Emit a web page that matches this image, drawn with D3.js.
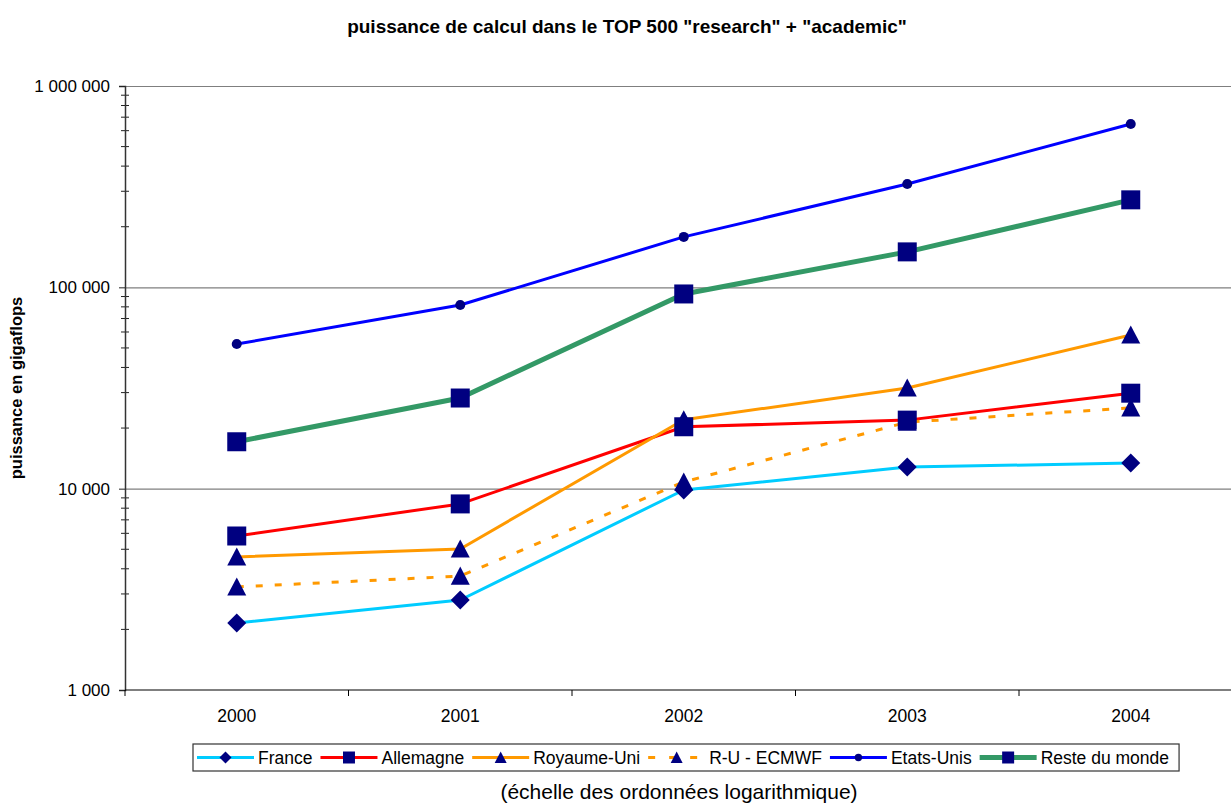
<!DOCTYPE html>
<html>
<head>
<meta charset="utf-8">
<script src="https://cdn.jsdelivr.net/npm/d3@7"></script>
<style>
  body { margin: 0; background: #fff; }
  text { font-family: Arial, "Liberation Sans", sans-serif; }
</style>
</head>
<body>
<div id="viz-container"></div>
<script>
// values (gigaflops)
let years = ["2000", "2001", "2002", "2003", "2004"];
let france = [2150, 2800, 9850, 12800, 13400];
let allemagne = [5820, 8400, 20300, 21900, 29800];
let royaumeUni = [4580, 5020, 22000, 31600, 58000];
let ruEcmwf = [3250, 3680, 10800, 21400, 25200];
let etatsUnis = [52300, 81700, 178000, 326000, 648000];
let resteMonde = [17100, 28200, 92700, 150000, 272000];
let yTicks = [1000, 10000, 100000, 1000000];

let series = [
  {name: "France", values: france, color: "#00ccff", width: 3, dash: null, marker: "diamond"},
  {name: "Allemagne", values: allemagne, color: "#ff0000", width: 3, dash: null, marker: "square"},
  {name: "Royaume-Uni", values: royaumeUni, color: "#ff9900", width: 3, dash: null, marker: "triangle"},
  {name: "R-U - ECMWF", values: ruEcmwf, color: "#ff9900", width: 3, dash: "7,12", marker: "triangle"},
  {name: "Etats-Unis", values: etatsUnis, color: "#0000ff", width: 3, dash: null, marker: "circle"},
  {name: "Reste du monde", values: resteMonde, color: "#339966", width: 5, dash: null, marker: "square"}
];

let W = 1231, H = 805;
let plotLeft = 125, plotTop = 86, plotBottom = 690;
let band = 223.5;

let viz = d3.select("#viz-container")
  .append("svg")
    .attr("width", W)
    .attr("height", H);

let x = d3.scaleBand().domain(years).range([plotLeft, plotLeft + band * years.length]);
let y = d3.scaleLog().domain([1000, 1000000]).range([plotBottom, plotTop]);

let fr = d3.formatLocale({decimal: ",", thousands: " ", grouping: [3], currency: ["", " €"]});
let fmt = fr.format(",");

// gridlines
viz.append("g")
  .attr("transform", "translate(" + plotLeft + ",0)")
  .call(d3.axisLeft(y).tickValues(yTicks.slice(1)).tickSize(-(W - plotLeft + 20)).tickFormat(""))
  .call(g => g.select(".domain").remove())
  .selectAll("line").attr("stroke", "#7f7f7f").attr("stroke-width", 1.2);

// minor ticks (cross the axis)
let minor = [];
for (let d = 1000; d < 1000000; d *= 10) {
  for (let k = 2; k <= 9; k++) minor.push(d * k);
}
viz.selectAll(".minor").data(minor).enter()
  .append("line")
  .attr("class", "minor")
  .attr("x1", plotLeft - 4).attr("x2", plotLeft + 4)
  .attr("y1", d => y(d)).attr("y2", d => y(d))
  .attr("stroke", "#222").attr("stroke-width", 1);

// y axis
let yAxis = viz.append("g")
  .attr("transform", "translate(" + plotLeft + ",0)")
  .call(d3.axisLeft(y).tickValues(yTicks).tickSize(6).tickPadding(9).tickFormat(fmt));
yAxis.select(".domain").attr("stroke", "#333").attr("stroke-width", 1.5);
yAxis.selectAll("line").attr("stroke", "#222");
yAxis.selectAll("text").style("font-size", "17px").attr("fill", "#000");

// x axis
let xAxis = viz.append("g")
  .attr("transform", "translate(0," + plotBottom + ")")
  .call(d3.axisBottom(x).tickSize(0).tickPadding(20));
xAxis.select(".domain").remove();
xAxis.selectAll("text").style("font-size", "17.5px").attr("fill", "#000");
viz.append("line")
  .attr("x1", plotLeft).attr("x2", W + 20)
  .attr("y1", plotBottom).attr("y2", plotBottom)
  .attr("stroke", "#000").attr("stroke-width", 1.2);
let bounds = d3.range(years.length + 1).map(i => plotLeft + band * i);
viz.selectAll(".xtick").data(bounds).enter()
  .append("line")
  .attr("class", "xtick")
  .attr("x1", d => d).attr("x2", d => d)
  .attr("y1", plotBottom).attr("y2", plotBottom + 6)
  .attr("stroke", "#000");

// lines
let line = d3.line()
  .x((d, i) => x(years[i]) + x.bandwidth() / 2)
  .y(d => y(d));

viz.selectAll(".serie").data(series).enter()
  .append("path")
  .attr("class", "serie")
  .attr("d", s => line(s.values))
  .attr("fill", "none")
  .attr("stroke", s => s.color)
  .attr("stroke-width", s => s.width)
  .attr("stroke-dasharray", s => s.dash)
  .attr("stroke-linejoin", "round");

function markerPath(type, size) {
  let h = size / 2;
  if (type == "square") return "M" + (-h) + "," + (-h) + "h" + size + "v" + size + "h" + (-size) + "Z";
  if (type == "diamond") return "M0," + (-h) + "L" + h + ",0L0," + h + "L" + (-h) + ",0Z";
  if (type == "triangle") return "M0," + (-h) + "L" + h + "," + (h * 0.9) + "L" + (-h) + "," + (h * 0.9) + "Z";
  return d3.symbol().type(d3.symbolCircle).size(Math.PI * h * h * 0.28)();
}

// markers
series.forEach(s => {
  viz.selectAll(null).data(s.values).enter()
    .append("path")
    .attr("transform", (d, i) => "translate(" + (x(years[i]) + x.bandwidth() / 2) + "," + y(d) + ")")
    .attr("d", markerPath(s.marker, 19))
    .attr("fill", "#000080");
});

// titles
viz.append("text")
  .attr("x", 627).attr("y", 33)
  .attr("text-anchor", "middle")
  .style("font-size", "19px").style("font-weight", "bold")
  .text('puissance de calcul dans le TOP 500 "research" + "academic"');

viz.append("text")
  .attr("transform", "translate(22,388) rotate(-90)")
  .attr("text-anchor", "middle")
  .style("font-size", "16.5px").style("font-weight", "bold")
  .text("puissance en gigaflops");

viz.append("text")
  .attr("x", 679).attr("y", 799)
  .attr("text-anchor", "middle")
  .style("font-size", "21px")
  .text("(échelle des ordonnées logarithmique)");

// legend
let legend = viz.append("g");
let box = legend.append("rect")
  .attr("x", 193).attr("y", 744)
  .attr("height", 27)
  .attr("fill", "#fff").attr("stroke", "#333").attr("stroke-width", 1.2);
let lx = 197;
series.forEach(s => {
  legend.append("line")
    .attr("x1", lx).attr("x2", lx + 57)
    .attr("y1", 757.5).attr("y2", 757.5)
    .attr("stroke", s.color)
    .attr("stroke-width", s.width)
    .attr("stroke-dasharray", s.dash ? "7,14" : null);
  legend.append("path")
    .attr("transform", "translate(" + (lx + 28.5) + ",757.5)")
    .attr("d", markerPath(s.marker, s.marker == "circle" ? 14 : 12))
    .attr("fill", "#000080");
  let t = legend.append("text")
    .attr("x", lx + 61).attr("y", 764)
    .style("font-size", "17.5px")
    .text(s.name);
  lx = lx + 61 + t.node().getComputedTextLength() + 8;
});
box.attr("width", lx - 193 + 2);
</script>
</body>
</html>
